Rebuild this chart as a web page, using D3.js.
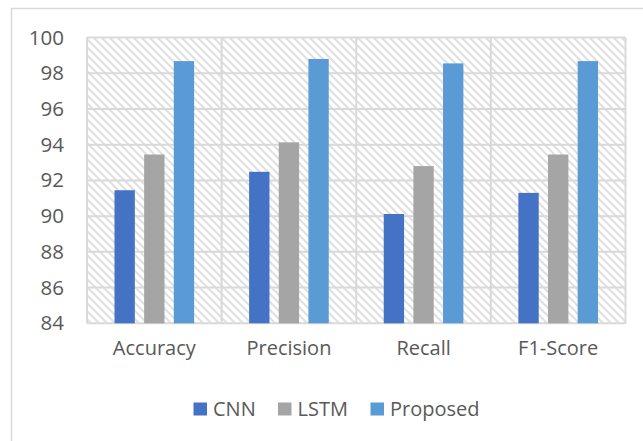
<!DOCTYPE html>
<html><head><meta charset="utf-8">
<script src="https://cdn.jsdelivr.net/npm/d3@7"></script>
<style>html,body{margin:0;padding:0;background:#fff;}svg{display:block;}</style>
</head><body>
<svg id="chart" width="643" height="441"></svg>
<script>
const categories = ["Accuracy", "Precision", "Recall", "F1-Score"];
const seriesNames = ["CNN", "LSTM", "Proposed"];
const cnnValues = [91.45, 92.48, 90.12, 91.3];
const lstmValues = [93.45, 94.13, 92.8, 93.45];
const proposedValues = [98.68, 98.8, 98.55, 98.68];
const yTicks = [84, 86, 88, 90, 92, 94, 96, 98, 100];
const colors = ["#4472C4", "#A5A5A5", "#5B9BD5"];

(function () {
const seriesValues = [cnnValues, lstmValues, proposedValues];
const svg = d3.select("#chart");
const font = "'Open Sans', sans-serif";
const textColor = "#595959";
const gridColor = "#d9d9d9";

const pLeft = 87, pRight = 625.5, pTop = 37.5, pBottom = 323.3;

// outer chart border (only top/left visible)
svg.append("path").attr("d", `M11.5,441 L11.5,8.5 L643,8.5`)
  .attr("fill", "none").attr("stroke", gridColor).attr("stroke-width", 1.5);

// hatch pattern
const defs = svg.append("defs");
const pat = defs.append("pattern").attr("id", "hatch").attr("patternUnits", "userSpaceOnUse")
  .attr("width", 8).attr("height", 8);
pat.append("rect").attr("width", 8).attr("height", 8).attr("fill", "#fff");
pat.append("path").attr("d", "M-1,-1 L9,9 M-1,7 L1,9 M7,-1 L9,1")
  .attr("stroke", "#e0e0e0").attr("stroke-width", 2);

const x0 = d3.scaleBand().domain(categories).range([pLeft, pRight]).padding(0);
const groupPad = 27.5;
const x1 = d3.scaleBand().domain(seriesNames)
  .range([groupPad, x0.bandwidth() - groupPad]).paddingInner(0.314).paddingOuter(0);
const y = d3.scaleLinear().domain([84, 100]).range([pBottom, pTop]);

svg.append("rect").attr("x", pLeft).attr("y", pTop).attr("width", pRight - pLeft).attr("height", pBottom - pTop)
  .attr("fill", "url(#hatch)");

// horizontal gridlines
svg.append("g").selectAll("line").data(yTicks).join("line")
  .attr("x1", pLeft).attr("x2", pRight)
  .attr("y1", d => y(d)).attr("y2", d => y(d))
  .attr("stroke", gridColor).attr("stroke-width", 2);
// vertical gridlines
const vlines = categories.map(c => x0(c)).concat([pRight]);
svg.append("g").selectAll("line").data(vlines).join("line")
  .attr("x1", d => d).attr("x2", d => d)
  .attr("y1", pTop).attr("y2", pBottom)
  .attr("stroke", gridColor).attr("stroke-width", 2);

// bars
const rows = [];
categories.forEach((c, i) => seriesNames.forEach((s, j) => rows.push({c, s, j, v: seriesValues[j][i]})));
svg.append("g").selectAll("rect").data(rows).join("rect")
  .attr("x", d => x0(d.c) + x1(d.s))
  .attr("width", x1.bandwidth())
  .attr("y", d => y(d.v))
  .attr("height", d => y(84) - y(d.v))
  .attr("fill", d => colors[d.j]);

// y axis labels
const yAxis = d3.axisLeft(y).tickValues(yTicks).tickSize(0).tickPadding(0);
const yg = svg.append("g").attr("transform", `translate(64,0)`).call(yAxis);
yg.select(".domain").remove();
yg.selectAll("text").attr("font-family", font).attr("font-size", 20.5).attr("fill", textColor);

// x axis labels
const xAxis = d3.axisBottom(x0).tickSize(0).tickPadding(0);
const xg = svg.append("g").attr("transform", `translate(0,${pBottom + 17})`).call(xAxis);
xg.select(".domain").remove();
xg.selectAll("text").attr("font-family", font).attr("font-size", 20).attr("fill", textColor)
  .attr("dy", "0.71em");

// legend
const legendX = [193.5, 278, 370.5];
const lg = svg.append("g").selectAll("g").data(seriesNames).join("g")
  .attr("transform", (d, i) => `translate(${legendX[i]},0)`);
lg.append("rect").attr("x", 0).attr("y", 402.5).attr("width", 13.5).attr("height", 13)
  .attr("fill", (d, i) => colors[i]);
lg.append("text").attr("x", 19.5).attr("y", 416).text(d => d)
  .attr("font-family", font).attr("font-size", 20).attr("fill", textColor);
})();
</script>
</body></html>
